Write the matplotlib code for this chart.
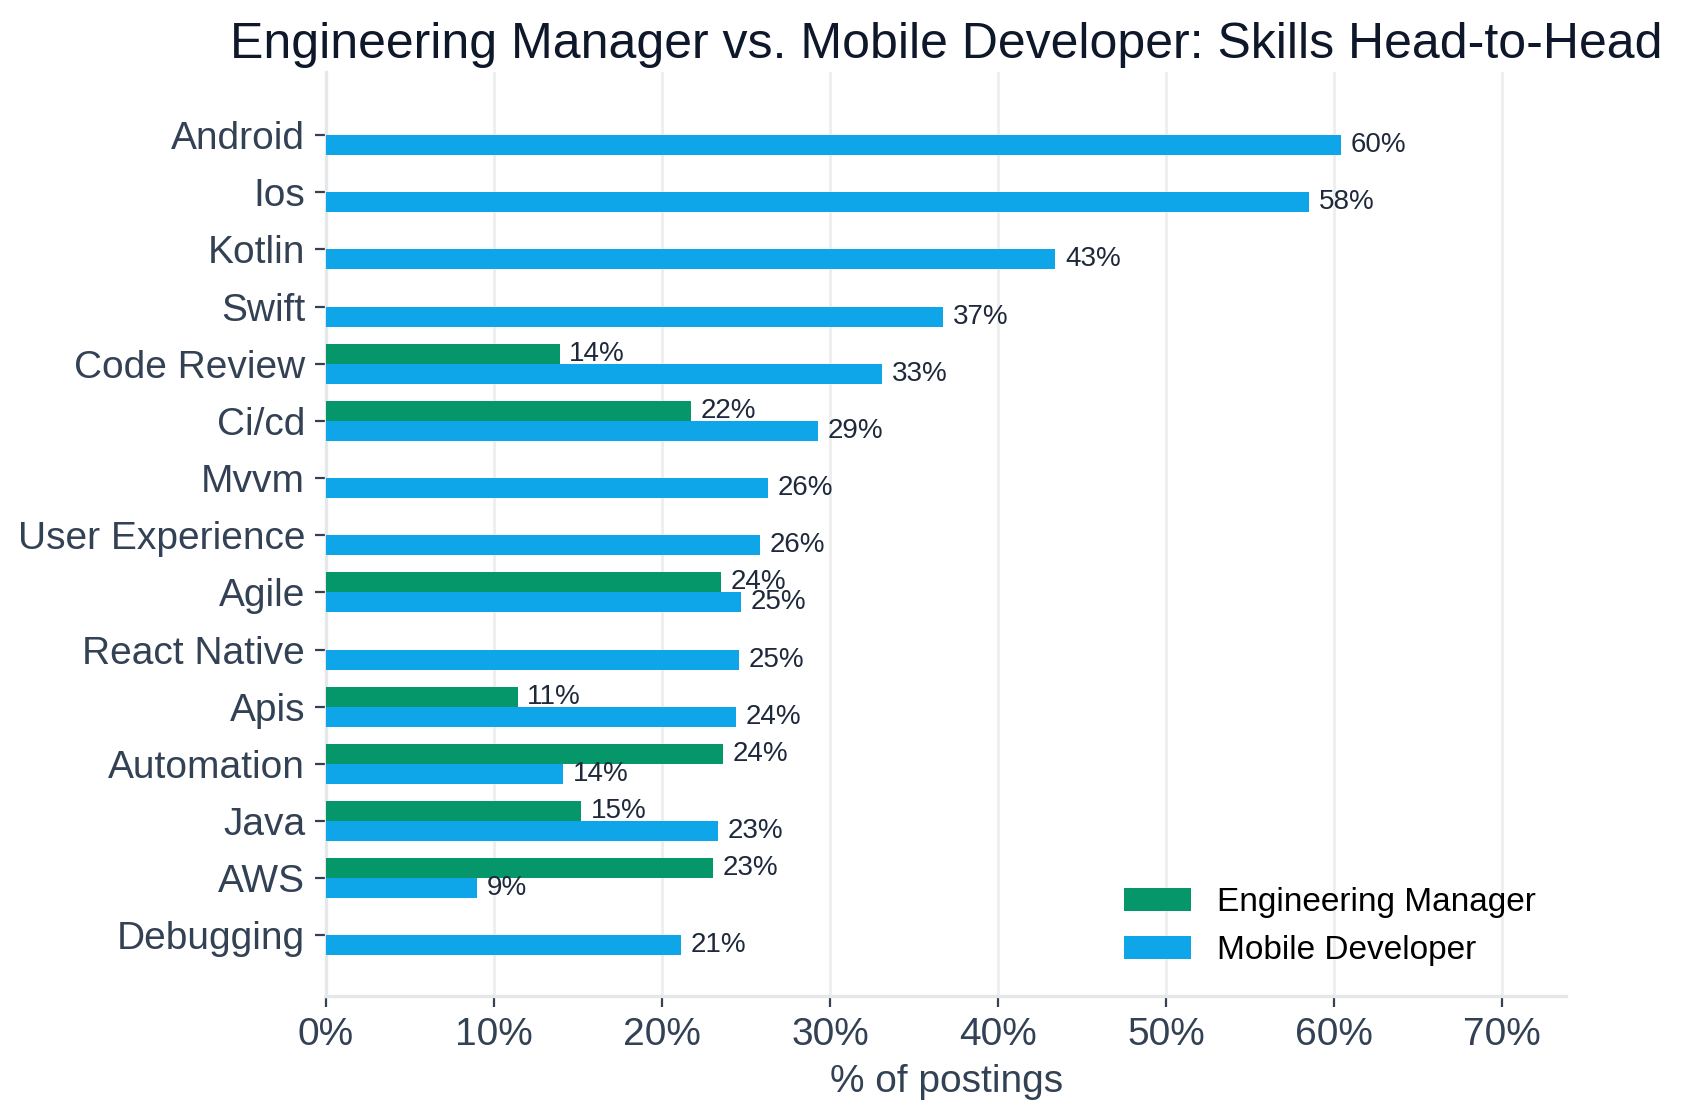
import matplotlib.pyplot as plt
import numpy as np

plt.rcParams['font.family'] = ['Liberation Sans', 'DejaVu Sans']

# ข้อมูลทักษะ (เรียงจากบนลงล่าง)
skills = ["Android", "Ios", "Kotlin", "Swift", "Code Review", "Ci/cd", "Mvvm",
          "User Experience", "Agile", "React Native", "Apis", "Automation",
          "Java", "AWS", "Debugging"]
eng_manager = [0, 0, 0, 0, 13.9, 21.7, 0, 0, 23.5, 0, 11.4, 23.6, 15.2, 23.0, 0]
mobile_dev = [60.4, 58.5, 43.4, 36.7, 33.1, 29.3, 26.3, 25.8, 24.7, 24.6, 24.4,
              14.1, 23.3, 9.0, 21.1]
x_ticks = [0, 10, 20, 30, 40, 50, 60, 70]

green = "#059669"
blue = "#0ea5e9"
txt = "#334155"

fig, ax = plt.subplots(figsize=(8.42, 5.595), dpi=200)
fig.subplots_adjust(left=0.1936, right=0.930, top=0.936, bottom=0.110)

y = np.arange(len(skills))
h = 0.35

bars_em = ax.barh(y - h / 2, eng_manager, height=h, color=green, label="Engineering Manager", zorder=3)
bars_md = ax.barh(y + h / 2, mobile_dev, height=h, color=blue, label="Mobile Developer", zorder=3)

# ป้ายตัวเลขท้ายแท่ง
for bars, vals in [(bars_em, eng_manager), (bars_md, mobile_dev)]:
    for b, v in zip(bars, vals):
        if v <= 0:
            continue
        ax.annotate(f"{v:.0f}%", (v, b.get_y() + b.get_height() / 2),
                    xytext=(3.5, 0), textcoords="offset points",
                    va="center", ha="left", fontsize=10, color="#1e293b", zorder=4)

ax.set_yticks(y)
ax.set_yticklabels(skills)
ax.set_ylim(len(skills) - 1 + 1.06, -1.11)
ax.set_xlim(0, 73.8)
ax.set_xticks(x_ticks)
ax.set_xticklabels([f"{t}%" for t in x_ticks])

ax.tick_params(axis="y", labelsize=14, colors=txt, length=4, width=0.8)
ax.tick_params(axis="x", labelsize=14, colors=txt, length=4, width=0.8)
ax.set_xlabel("% of postings", fontsize=14, color=txt)

ax.grid(axis="x", color="#eeeeee", linewidth=1, zorder=0)
ax.set_axisbelow(True)
for s in ["top", "right"]:
    ax.spines[s].set_visible(False)
for s in ["left", "bottom"]:
    ax.spines[s].set_color("#e5e7eb")
    ax.spines[s].set_linewidth(1.2)

ax.set_title("Engineering Manager vs. Mobile Developer: Skills Head-to-Head",
             fontsize=18, color="#0f172a", pad=5)

ax.legend(loc="lower right", frameon=False, fontsize=12)

fig.savefig("out.png", dpi=200)
